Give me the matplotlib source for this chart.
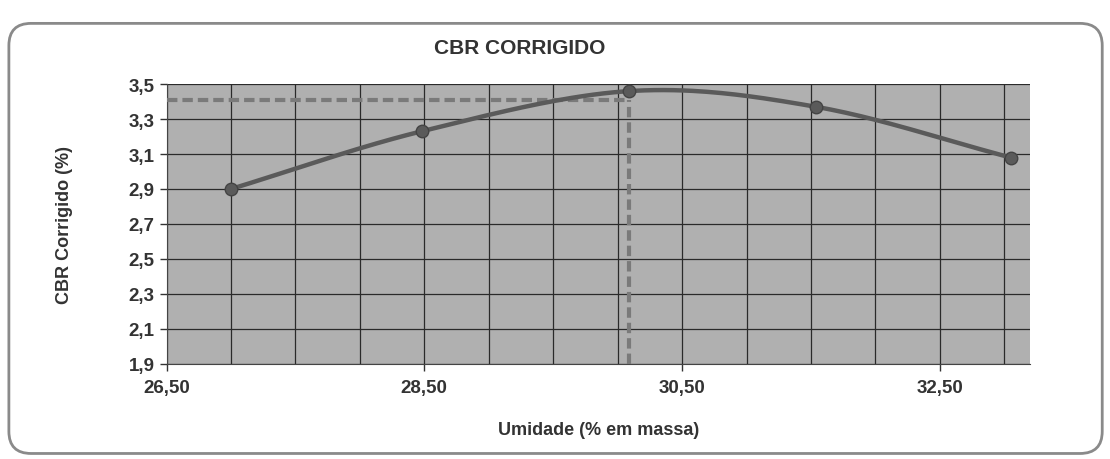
import numpy as np
import matplotlib
matplotlib.use("Agg")
import matplotlib.pyplot as plt
from matplotlib.patches import FancyBboxPatch
from matplotlib.ticker import MultipleLocator, FixedLocator, FuncFormatter

plt.rcParams['font.family'] = ['Liberation Sans', 'DejaVu Sans']

umidade = [27.00, 28.48, 30.09, 31.54, 33.05]
cbr = [2.90, 3.23, 3.46, 3.37, 3.08]
umidade_otima = 30.09
cbr_max = 3.41
x_ticks = [26.50, 28.50, 30.50, 32.50]
y_ticks = [1.9, 2.1, 2.3, 2.5, 2.7, 2.9, 3.1, 3.3, 3.5]

fig = plt.figure(figsize=(11.1, 4.6), dpi=100)
fig.patch.set_facecolor('white')

# outer rounded frame
frame = FancyBboxPatch((0.008, 0.012), 0.985, 0.935,
                       boxstyle="round,pad=0,rounding_size=0.02",
                       transform=fig.transFigure, facecolor='none',
                       edgecolor='#8a8a8a', linewidth=2.0, mutation_aspect=2.4,
                       zorder=0)
fig.patches.append(frame)

ax = fig.add_axes([0.150, 0.207, 0.778, 0.608])
ax.set_facecolor('#b0b0b0')

# smooth curve (Catmull-Rom through points, like Excel smoothed line)
def catmull(xs, ys, n=40):
    P = np.column_stack([xs, ys])
    P = np.vstack([P[0] - (P[1] - P[0]), P, P[-1] + (P[-1] - P[-2])])
    out = []
    for i in range(1, len(P) - 2):
        p0, p1, p2, p3 = P[i-1], P[i], P[i+1], P[i+2]
        t = np.linspace(0, 1, n)[:, None]
        seg = 0.5 * ((2*p1) + (-p0 + p2)*t + (2*p0 - 5*p1 + 4*p2 - p3)*t**2
                     + (-p0 + 3*p1 - 3*p2 + p3)*t**3)
        out.append(seg)
    out = np.vstack(out)
    return out[:, 0], out[:, 1]

sx, sy = catmull(umidade, cbr)

ax.set_xlim(26.5, 33.2)
ax.set_ylim(1.9, 3.5)
ax.xaxis.set_major_locator(FixedLocator(x_ticks))
ax.xaxis.set_minor_locator(MultipleLocator(0.5))
ax.yaxis.set_major_locator(FixedLocator(y_ticks))
ax.grid(True, which='both', axis='x', color='#2a2a2a', linewidth=0.9)
ax.grid(True, which='major', axis='y', color='#2a2a2a', linewidth=0.9)
ax.set_axisbelow(True)

ax.plot([26.5, umidade_otima], [cbr_max, cbr_max], color='#7a7a7a',
        linewidth=3, linestyle=(0, (2.5, 1.2)), zorder=3)
ax.plot([umidade_otima, umidade_otima], [1.9, cbr_max], color='#7a7a7a',
        linewidth=3, linestyle=(0, (2.5, 1.2)), zorder=3)

ax.plot(sx, sy, color='#5a5a5a', linewidth=3.2, zorder=4)
ax.plot(umidade, cbr, linestyle='none', marker='o', markersize=9,
        color='#5a5a5a', markeredgecolor='#444444', zorder=5)

fmt2 = FuncFormatter(lambda v, p: f"{v:.2f}".replace('.', ','))
fmt1 = FuncFormatter(lambda v, p: f"{v:.1f}".replace('.', ','))
ax.xaxis.set_major_formatter(fmt2)
ax.yaxis.set_major_formatter(fmt1)
ax.tick_params(axis='both', which='major', labelsize=13.5, colors='#333333',
               length=5, width=1)
ax.tick_params(axis='x', which='major', pad=6)
ax.tick_params(axis='x', which='minor', length=0)
for lab in ax.get_xticklabels() + ax.get_yticklabels():
    lab.set_fontweight('bold')

for s in ['top', 'right']:
    ax.spines[s].set_visible(False)
ax.spines['left'].set_color('#444444')
ax.spines['bottom'].set_color('#444444')

ax.set_xlabel('Umidade (% em massa)', fontsize=13, fontweight='bold',
              color='#333333', labelpad=18)
ax.set_ylabel('CBR Corrigido (%)', fontsize=13, fontweight='bold',
              color='#333333', labelpad=40)

fig.text(0.468, 0.895, 'CBR CORRIGIDO', ha='center', va='center',
         fontsize=15, fontweight='bold', color='#333333')

fig.savefig('out.png', dpi=100, facecolor='white')
